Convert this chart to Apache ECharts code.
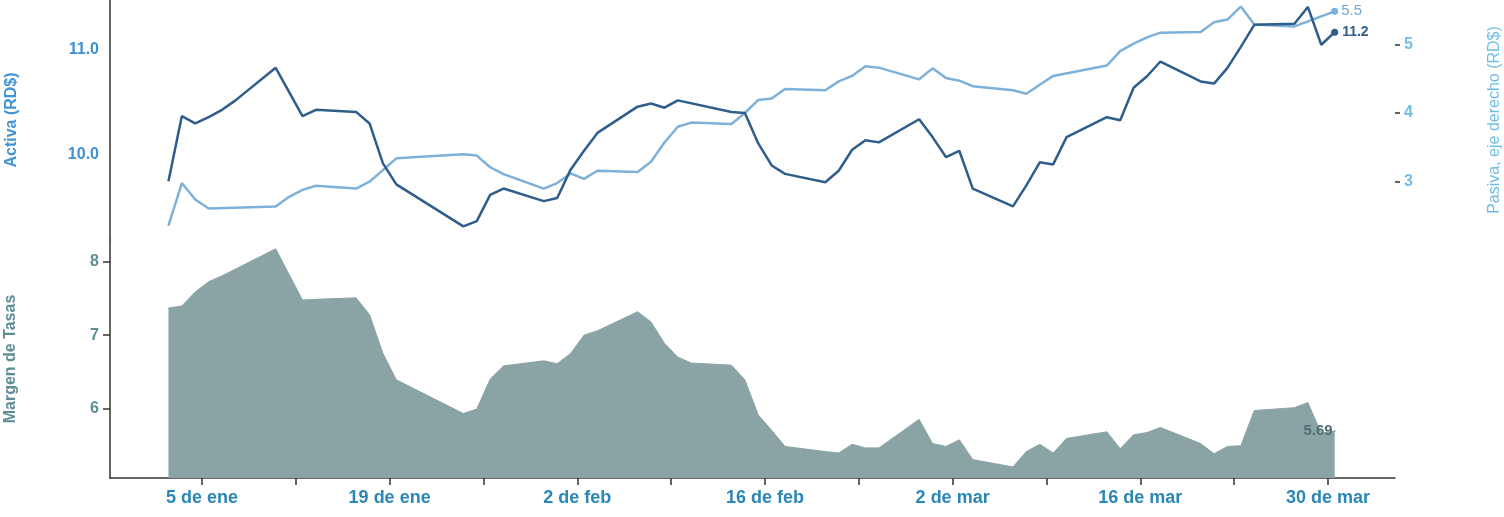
<!DOCTYPE html>
<html><head><meta charset="utf-8">
<script src="https://cdn.jsdelivr.net/npm/echarts@6/dist/echarts.min.js"></script>
<style>html,body{margin:0;padding:0;background:#fff}#c{width:1504px;height:517px}</style>
</head><body><div id="c"></div>
<script>
const dates = ['2015-01-02','2015-01-03','2015-01-04','2015-01-05','2015-01-06','2015-01-07','2015-01-10','2015-01-11','2015-01-12','2015-01-13','2015-01-16','2015-01-17','2015-01-18','2015-01-19','2015-01-24','2015-01-25','2015-01-26','2015-01-27','2015-01-30','2015-01-31',
'2015-02-01','2015-02-02','2015-02-03','2015-02-06','2015-02-07','2015-02-08','2015-02-09','2015-02-10','2015-02-13','2015-02-14','2015-02-15','2015-02-16','2015-02-17','2015-02-20','2015-02-21','2015-02-22','2015-02-23','2015-02-24','2015-02-27','2015-02-28',
'2015-03-01','2015-03-02','2015-03-03','2015-03-06','2015-03-07','2015-03-08','2015-03-09','2015-03-10','2015-03-13','2015-03-14','2015-03-15','2015-03-16','2015-03-17','2015-03-20','2015-03-21','2015-03-22','2015-03-23','2015-03-24','2015-03-27','2015-03-28','2015-03-29','2015-03-30'];
const activa = [9.75,10.37,10.30,10.36,10.43,10.52,10.83,null,10.37,10.43,10.41,10.30,9.92,9.72,9.32,9.37,9.62,9.68,9.56,9.59,
9.86,10.04,10.21,10.46,10.49,10.45,10.52,null,10.41,10.40,10.11,9.90,9.82,9.74,9.85,10.05,10.14,10.12,10.34,10.17,
9.98,10.04,9.68,9.51,9.71,9.93,9.91,10.17,10.36,10.33,10.64,10.75,10.89,10.70,10.68,10.83,11.03,11.24,11.25,11.41,11.05,11.17];
const pasiva = [2.36,2.98,2.74,2.61,null,null,2.64,2.78,2.88,2.94,2.90,3.00,null,3.34,3.40,3.38,3.21,3.11,2.90,2.98,
3.12,3.04,3.16,3.14,3.29,3.57,3.80,3.86,3.84,4.00,4.19,4.21,4.35,4.33,4.46,4.54,4.68,4.66,4.49,4.65,
4.51,4.47,4.39,4.33,4.28,4.41,4.54,null,4.69,4.90,5.01,5.10,5.17,5.18,5.32,5.36,5.55,5.29,5.26,null,null,5.48];
const margen = [7.37,7.40,7.59,7.73,7.81,null,8.18,null,7.48,7.49,7.51,7.28,6.75,6.39,5.93,5.99,6.40,6.58,6.65,6.61,
6.75,7.00,7.06,7.32,7.18,6.89,6.70,6.62,6.59,6.39,5.91,5.70,5.48,5.41,5.39,5.51,5.46,5.46,5.85,5.52,
5.48,5.57,5.30,5.20,5.41,5.51,5.39,5.59,5.68,5.45,5.64,5.67,5.74,5.52,5.38,5.48,5.49,5.97,6.01,6.08,5.66,5.69];
const xTickDates = ['2015-01-05','2015-01-12','2015-01-19','2015-01-26','2015-02-02','2015-02-09','2015-02-16','2015-02-23','2015-03-02','2015-03-09','2015-03-16','2015-03-23','2015-03-30'];
const xLabelDates = ['2015-01-05','2015-01-19','2015-02-02','2015-02-16','2015-03-02','2015-03-16','2015-03-30'];
const monthNames = ['ene','feb','mar','abr','may','jun','jul','ago','sep','oct','nov','dic'];
const activaTicks = [10, 11];
const pasivaTicks = [3, 4, 5];
const margenTicks = [6, 7, 8];

const DAY = 86400000;
const ORIGIN = Date.UTC(2015, 0, 5);
function dayNum(s) { const p = s.split('-').map(Number); return (Date.UTC(p[0], p[1]-1, p[2]) - ORIGIN) / DAY; }
function dayLabel(v) { const d = new Date(ORIGIN + Math.round(v) * DAY); return d.getUTCDate() + ' de ' + monthNames[d.getUTCMonth()]; }
const FONT = 'Liberation Sans, Arial, sans-serif';
const xMin = -6.86, xMax = 89.0;

function build(vals, endLabel) {
  const pts = [];
  vals.forEach((v, i) => { if (v != null) pts.push([dayNum(dates[i]) + 0.5, v]); });
  const last = pts.pop();
  pts.push(Object.assign({ value: last }, endLabel));
  return pts;
}

const C_ACT = '#2f5d8c', C_PAS = '#7db1da', C_MAR = '#8aa3a5';
const AXC = '#333';

const chart = echarts.init(document.getElementById('c'));
chart.setOption({
  animation: false,
  grid: [
    { left: 110, right: 109, top: 0, height: 240, containLabel: false, outerBoundsMode: 'none' },
    { left: 110, right: 109, top: 240, bottom: 39, containLabel: false, outerBoundsMode: 'none' }
  ],
  xAxis: [
    { type: 'value', gridIndex: 0, min: xMin, max: xMax, show: false, splitLine: { show: false } },
    { type: 'value', gridIndex: 1, min: xMin, max: xMax,
      axisLine: { show: true, onZero: false, lineStyle: { color: AXC, width: 1.5 } },
      axisTick: { show: true, length: 7, lineStyle: { color: AXC, width: 1.5 }, customValues: xTickDates.map(dayNum) },
      splitLine: { show: false },
      axisLabel: { margin: 11, color: '#2b87b8', fontSize: 18, fontWeight: 'bold', fontFamily: FONT,
        customValues: xLabelDates.map(dayNum), formatter: v => dayLabel(v) } }
  ],
  yAxis: [
    { type: 'value', gridIndex: 0, min: 9.19, max: 11.476, position: 'left',
      name: 'Activa (RD$)', nameLocation: 'middle', nameRotate: 90, nameGap: 90,
      nameTextStyle: { color: '#4394d4', fontSize: 16, fontWeight: 'bold', fontFamily: FONT },
      axisLine: { show: true, onZero: false, lineStyle: { color: AXC, width: 1.5 } },
      axisTick: { show: false }, splitLine: { show: false },
      axisLabel: { margin: 11, color: '#3f8fd2', fontSize: 16, fontWeight: 'bold', fontFamily: FONT,
        customValues: activaTicks, formatter: v => v.toFixed(1) } },
    { type: 'value', gridIndex: 0, min: 2.151, max: 5.645, position: 'right',
      name: 'Pasiva, eje derecho (RD$)', nameLocation: 'middle', nameRotate: 90, nameGap: 92,
      nameTextStyle: { color: '#72bde4', fontSize: 16, fontFamily: FONT },
      axisLine: { show: false, onZero: false },
      axisTick: { show: true, length: 5, lineStyle: { color: AXC, width: 1.5 }, customValues: pasivaTicks },
      splitLine: { show: false },
      axisLabel: { margin: 9, color: '#72bde4', fontSize: 16, fontWeight: 'bold', fontFamily: FONT,
        customValues: pasivaTicks } },
    { type: 'value', gridIndex: 1, min: 5.049, max: 8.30, position: 'left',
      name: 'Margen de Tasas', nameLocation: 'middle', nameRotate: 90, nameGap: 91,
      nameTextStyle: { color: '#5e8d95', fontSize: 16, fontWeight: 'bold', fontFamily: FONT },
      axisLine: { show: true, onZero: false, lineStyle: { color: AXC, width: 1.5 } },
      axisTick: { show: true, length: 7, lineStyle: { color: AXC, width: 1.5 }, customValues: margenTicks },
      splitLine: { show: false },
      axisLabel: { margin: 11, color: '#5e8d95', fontSize: 16, fontWeight: 'bold', fontFamily: FONT,
        customValues: margenTicks } }
  ],
  series: [
    { name: 'Margen de Tasas', type: 'line', xAxisIndex: 1, yAxisIndex: 2, symbol: 'none', showSymbol: true,
      lineStyle: { color: C_MAR, width: 1 }, itemStyle: { color: C_MAR },
      areaStyle: { color: C_MAR, opacity: 1, origin: 'start' },
      data: build(margen, { symbol: 'circle', symbolSize: 2, itemStyle: { color: C_MAR },
        label: { show: true, position: 'left', distance: 1, formatter: p => p.value[1].toFixed(2),
        color: '#4e6e74', fontSize: 15, fontWeight: 'bold', fontFamily: FONT } }) },
    { name: 'Pasiva', type: 'line', xAxisIndex: 0, yAxisIndex: 1, symbol: 'none', showSymbol: true,
      lineStyle: { color: C_PAS, width: 2.5 }, itemStyle: { color: C_PAS },
      data: build(pasiva, { symbol: 'circle', symbolSize: 7, label: { show: true, position: 'right', distance: 3,
        formatter: p => p.value[1].toFixed(1), color: '#6fa9d6', fontSize: 15, fontFamily: FONT } }) },
    { name: 'Activa', type: 'line', xAxisIndex: 0, yAxisIndex: 0, symbol: 'none', showSymbol: true,
      lineStyle: { color: C_ACT, width: 2.5 }, itemStyle: { color: C_ACT },
      data: build(activa, { symbol: 'circle', symbolSize: 7, label: { show: true, position: 'right', distance: 4,
        formatter: p => p.value[1].toFixed(1), color: C_ACT, fontSize: 14, fontWeight: 'bold', fontFamily: FONT } }) }
  ]
});
</script></body></html>
